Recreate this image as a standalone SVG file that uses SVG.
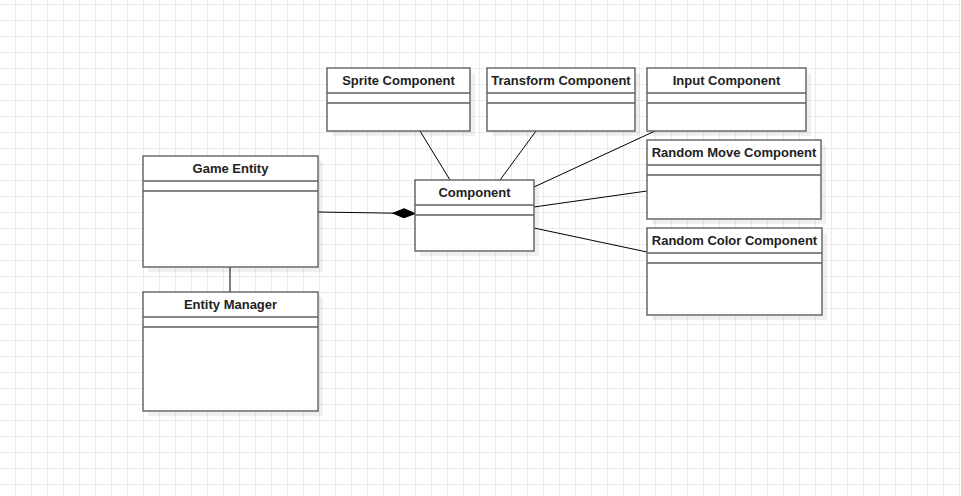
<svg xmlns="http://www.w3.org/2000/svg" width="961" height="496" viewBox="0 0 961 496">
  <defs>
    <pattern id="grid" x="15" y="4" width="16" height="16" patternUnits="userSpaceOnUse">
      <path d="M0 0.5H16M0.5 0V16" fill="none" stroke="#ebebeb" stroke-width="1"/>
    </pattern>
    <marker id="diamond" viewBox="0 0 24 10" refX="23" refY="5" markerWidth="24" markerHeight="10" markerUnits="userSpaceOnUse" orient="auto">
      <path d="M1 5L12 0.5L23 5L12 9.5Z" fill="#000" stroke="#000" stroke-width="1"/>
    </marker>
  </defs>
  <style>
    .shadow { fill: #000; fill-opacity: 0.06; }
    .box { fill: #fff; stroke: #5f5f5f; stroke-width: 1.4; }
    .sep { stroke: #5f5f5f; stroke-width: 1.4; }
    .title { font-family: "Liberation Sans", Arial, sans-serif; font-size: 13px; font-weight: bold; fill: #222; text-anchor: middle; }
    .edge { fill: none; stroke: #000; stroke-width: 1; }
  </style>
  <rect width="961" height="496" fill="#fff"/>
  <rect width="961" height="496" fill="url(#grid)"/>

  <!-- connectors -->
  <g id="connectors">
    <line class="edge" x1="230" y1="267" x2="230" y2="292"/>
    <line class="edge" x1="318" y1="212" x2="415" y2="213.5" marker-end="url(#diamond)"/>
    <line class="edge" x1="420" y1="131" x2="450" y2="180"/>
    <line class="edge" x1="536" y1="131" x2="500" y2="180"/>
    <line class="edge" x1="534" y1="187" x2="655" y2="131"/>
    <line class="edge" x1="534" y1="207" x2="647" y2="191"/>
    <line class="edge" x1="534" y1="228" x2="647" y2="252"/>
  </g>

  <!-- Game Entity -->
  <g id="game-entity">
    <rect class="shadow" x="148" y="161" width="175" height="111"/>
    <rect class="box" x="143" y="156" width="175" height="111"/>
    <line class="sep" x1="143" y1="181" x2="318" y2="181"/>
    <line class="sep" x1="143" y1="191" x2="318" y2="191"/>
    <text class="title" x="230.5" y="173">Game Entity</text>
  </g>

  <!-- Entity Manager -->
  <g id="entity-manager">
    <rect class="shadow" x="148" y="297" width="175" height="119"/>
    <rect class="box" x="143" y="292" width="175" height="119"/>
    <line class="sep" x1="143" y1="317" x2="318" y2="317"/>
    <line class="sep" x1="143" y1="327" x2="318" y2="327"/>
    <text class="title" x="230.5" y="309">Entity Manager</text>
  </g>

  <!-- Component -->
  <g id="component">
    <rect class="shadow" x="420" y="185" width="119" height="71"/>
    <rect class="box" x="415" y="180" width="119" height="71"/>
    <line class="sep" x1="415" y1="205" x2="534" y2="205"/>
    <line class="sep" x1="415" y1="215" x2="534" y2="215"/>
    <text class="title" x="474.5" y="197">Component</text>
  </g>

  <!-- Sprite Component -->
  <g id="sprite-component">
    <rect class="shadow" x="332" y="73" width="143" height="63"/>
    <rect class="box" x="327" y="68" width="143" height="63"/>
    <line class="sep" x1="327" y1="93" x2="470" y2="93"/>
    <line class="sep" x1="327" y1="103" x2="470" y2="103"/>
    <text class="title" x="398.5" y="85">Sprite Component</text>
  </g>

  <!-- Transform Component -->
  <g id="transform-component">
    <rect class="shadow" x="492" y="73" width="148" height="63"/>
    <rect class="box" x="487" y="68" width="148" height="63"/>
    <line class="sep" x1="487" y1="93" x2="635" y2="93"/>
    <line class="sep" x1="487" y1="103" x2="635" y2="103"/>
    <text class="title" x="561" y="85">Transform Component</text>
  </g>

  <!-- Input Component -->
  <g id="input-component">
    <rect class="shadow" x="652" y="73" width="159" height="63"/>
    <rect class="box" x="647" y="68" width="159" height="63"/>
    <line class="sep" x1="647" y1="93" x2="806" y2="93"/>
    <line class="sep" x1="647" y1="103" x2="806" y2="103"/>
    <text class="title" x="726.5" y="85">Input Component</text>
  </g>

  <!-- Random Move Component -->
  <g id="random-move-component">
    <rect class="shadow" x="652" y="145" width="174" height="79"/>
    <rect class="box" x="647" y="140" width="174" height="79"/>
    <line class="sep" x1="647" y1="165" x2="821" y2="165"/>
    <line class="sep" x1="647" y1="175" x2="821" y2="175"/>
    <text class="title" x="734" y="157">Random Move Component</text>
  </g>

  <!-- Random Color Component -->
  <g id="random-color-component">
    <rect class="shadow" x="652" y="233" width="175" height="87"/>
    <rect class="box" x="647" y="228" width="175" height="87"/>
    <line class="sep" x1="647" y1="253" x2="822" y2="253"/>
    <line class="sep" x1="647" y1="263" x2="822" y2="263"/>
    <text class="title" x="734.5" y="245">Random Color Component</text>
  </g>
</svg>
